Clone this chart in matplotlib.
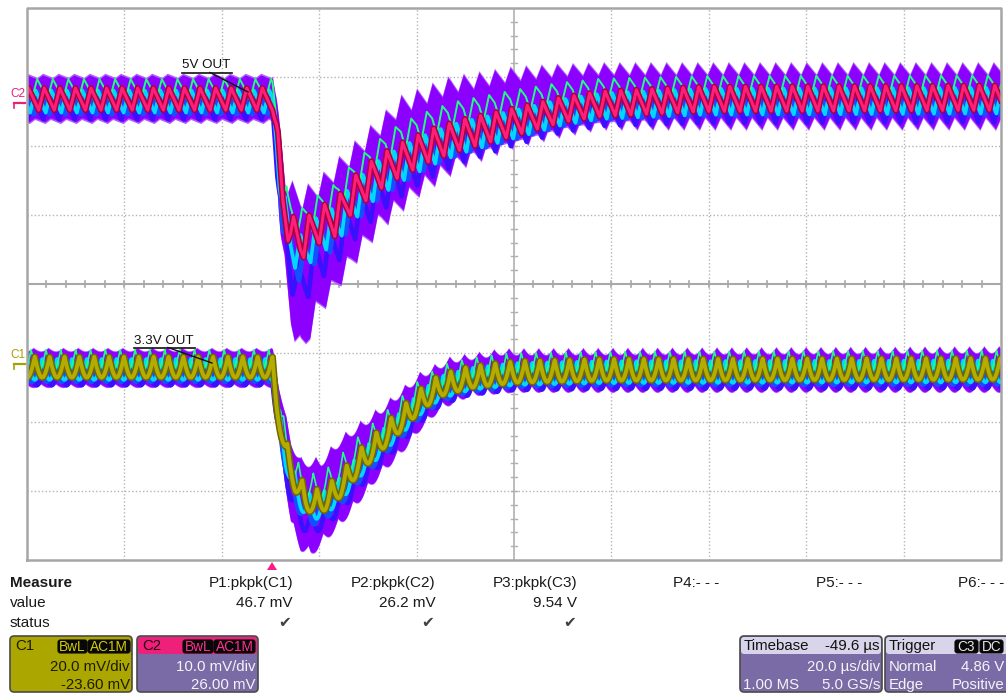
import numpy as np
import matplotlib.pyplot as plt
from matplotlib.patches import FancyBboxPatch, Polygon

plt.rcParams['font.family'] = ['Liberation Sans', 'DejaVu Sans']

W, H = 1006, 693

# acquisition settings
TIME_DIV = 20.0                  # us/div
DELAY = -49.6                    # us
C1_VDIV, C1_OFS = 20.0, -23.60   # mV/div, mV
C2_VDIV, C2_OFS = 10.0, 26.00

# C2 (5V out): ripple centre and persistence envelope, mV vs us after trigger
c2_t = [-50.4, 0.0, 0.8, 2.1, 3.7, 5.7, 7.8, 9.9, 12.9, 16.0, 21.1, 26.3,
        32.4, 38.6, 49.7, 59.1, 67.3, 87.9, 149.6]
c2_mid = [0.8, 0.8, -3.7, -13.8, -18.5, -20.0, -18.5, -17.3, -16.5, -13.5,
          -10.2, -8.0, -5.9, -4.4, -2.5, -0.8, 0.1, 0.8, 1.0]
c2_env_t = [-50.4, 0.0, 1.2, 2.7, 5.7, 9.9, 14.0, 18.1, 26.3, 36.5, 49.7,
            59.1, 67.3, 149.6]
c2_hi = [4.0, 4.0, -2.2, -11.7, -13.8, -11.7, -8.8, -5.9, -0.1, 2.8, 4.4,
         4.9, 5.1, 5.1]
c2_lo_t = [-50.4, 0.0, 1.6, 3.7, 5.7, 6.8, 8.8, 11.9, 16.0, 22.2, 30.4, 38.6,
           49.7, 59.1, 67.3, 149.6]
c2_lo = [-2.2, -2.2, -18.2, -31.2, -34.9, -34.2, -29.8, -26.9, -22.5, -16.7,
         -11.7, -8.0, -5.1, -3.7, -2.6, -2.6]
c2_pp_t = [-50.4, 0.0, 2.0, 20.0, 60.0, 149.6]
c2_pp = [3.2, 3.2, 5.5, 5.0, 3.6, 3.6]
c2_env_pp = [0.6, 0.6, 3.0, 3.0, 1.8, 1.8]
C2_PERIOD = 3.2

# C1 (3.3V out)
c1_t = [-50.4, 0.0, 0.8, 2.7, 4.7, 6.8, 8.8, 10.9, 14.0, 18.1, 22.2, 26.3,
        30.4, 34.5, 40.6, 49.7, 67.3, 149.6]
c1_mid = [-0.5, -0.5, -10.0, -24.5, -33.2, -38.5, -39.5, -38.5, -34.6, -27.4,
          -21.6, -15.8, -10.0, -5.7, -3.4, -1.9, -1.3, -1.0]
c1_hi_t = [-50.4, 0.0, 1.2, 3.7, 5.7, 9.9, 14.0, 22.2, 30.4, 36.5, 46.8, 149.6]
c1_hi = [4.5, 4.5, -5.7, -22.0, -28.0, -28.0, -21.6, -12.9, -2.8, 1.6, 3.9, 4.5]
c1_lo_t = [-50.4, 0.0, 1.6, 3.7, 5.7, 7.8, 9.9, 14.0, 18.1, 22.2, 26.3, 30.4,
           34.5, 40.6, 49.7, 149.6]
c1_lo = [-5.7, -5.7, -24.5, -44.8, -52.0, -54.0, -50.6, -44.8, -37.6, -30.3,
         -24.5, -17.3, -11.5, -7.7, -6.6, -6.6]
c1_pp_t = [-50.4, 0.0, 5.0, 40.0, 149.6]
c1_pp = [6.0, 6.0, 7.0, 6.2, 6.2]
c1_env_pp = [1.0, 1.0, 3.0, 2.0, 2.0]
C1_PERIOD = 3.05

# measurement table
meas_names = ['P1:pkpk(C1)', 'P2:pkpk(C2)', 'P3:pkpk(C3)', 'P4:- - -', 'P5:- - -', 'P6:- - -']
meas_values = ['46.7 mV', '26.2 mV', '9.54 V', '', '', '']
meas_ok = [True, True, True, False, False, False]


def saw(t, period, phase):
    p = (t / period + phase) % 1.0
    return np.where(p < 0.35, -1 + 2 * p / 0.35, 1 - 2 * (p - 0.35) / 0.65)


def scallop(t, period, phase):
    return 1 - 2 * np.abs(np.sin(np.pi * (t / period + phase)))


def to_x(t):
    return 5 + (t + DELAY) / TIME_DIV


fig = plt.figure(figsize=(W / 100, H / 100), dpi=100)
ax = fig.add_axes([27 / W, 1 - 560 / H, 974 / W, 552 / H])
ax.set_xlim(0, 10)
ax.set_ylim(0, 8)
ax.axis('off')

# graticule
grid_kw = dict(color='#b4b4b4', lw=1.0, ls=(0, (1, 1.6)), zorder=1)
for i in range(1, 10):
    if i != 5:
        ax.plot([i, i], [0, 8], **grid_kw)
for j in range(1, 8):
    if j != 4:
        ax.plot([0, 10], [j, j], **grid_kw)
ax.plot([0, 10], [4, 4], color='#a8a8a8', lw=1.5, zorder=1)
ax.plot([5, 5], [0, 8], color='#b0b0b0', lw=1.2, zorder=1)
for m in np.arange(0.2, 10, 0.2):
    ax.plot([m, m], [4 - 0.045, 4 + 0.045], color='#a8a8a8', lw=1.2, zorder=1)
for m in np.arange(0.2, 8, 0.2):
    ax.plot([5 - 0.03, 5 + 0.03], [m, m], color='#b0b0b0', lw=1.0, zorder=1)
ax.plot([0, 10, 10, 0, 0], [0, 0, 8, 8, 0], color='#a6a6a6', lw=1.8,
        zorder=6, clip_on=False)

t = np.linspace(-50.4, 149.6, 14000)
x = to_x(t)


def draw_channel(mid_t, mid, hi_t, hi, lo_t, lo, pp_t, pp, env_pp, period,
                 wave, vdiv, ofs, trace_col, edge_col, copies, trace_lw):
    m = np.interp(t, mid_t, mid)
    a = np.interp(t, pp_t, pp) / 2
    ea = np.interp(t, pp_t, env_pp) / 2
    h = np.interp(t, hi_t, hi) + ea * wave(t, period, 0.1)
    l = np.interp(t, lo_t, lo) + ea * wave(t, period, 0.6)
    h = np.maximum(h, m + a + 0.6)
    l = np.minimum(l, m - a - 0.6)

    def y(v):
        return 4 + (v + ofs) / vdiv

    ax.fill_between(x, y(l - 0.25), y(h + 0.25), color='#b25cff', lw=0, zorder=2)
    ax.fill_between(x, y(l), y(h), color='#8c00ff', lw=0, zorder=2)
    for frac, phase, col, lw in copies:
        base = m + frac * (l - m) if frac >= 0 else m - frac * (h - m)
        ax.plot(x, y(base + a * wave(t, period, phase)), color=col, lw=lw,
                zorder=3, solid_joinstyle='round')
    v = m + a * wave(t, period, 0.0)
    ax.plot(x, y(v), color=edge_col, lw=trace_lw + 2.2, zorder=4)
    ax.plot(x, y(v), color=trace_col, lw=trace_lw, zorder=5)


draw_channel(c2_t, c2_mid, c2_env_t, c2_hi, c2_lo_t, c2_lo, c2_pp_t, c2_pp,
             c2_env_pp, C2_PERIOD, saw, C2_VDIV, C2_OFS, '#ff1f78', '#a8003c',
             [(0.42, 0.7, '#3a10ff', 3.2), (0.22, 0.3, '#1450ff', 3.4),
              (0.12, 0.55, '#00d8ff', 2.6), (-0.45, 0.45, '#1eff80', 1.4)], 2.2)
draw_channel(c1_t, c1_mid, c1_hi_t, c1_hi, c1_lo_t, c1_lo, c1_pp_t, c1_pp,
             c1_env_pp, C1_PERIOD, scallop, C1_VDIV, C1_OFS, '#b4ac00', '#6e6800',
             [(0.42, 0.35, '#3a10ff', 3.2), (0.22, 0.7, '#1450ff', 3.4),
              (0.12, 0.5, '#00d8ff', 2.6), (-0.4, 0.25, '#1eff80', 1.2)], 2.8)

# overlay in pixel coordinates for annotations and readouts
ov = fig.add_axes([0, 0, 1, 1])
ov.set_xlim(0, W)
ov.set_ylim(H, 0)
ov.axis('off')

ov.text(182, 65, '5V OUT', fontsize=9.6, va='center', ha='left', color='#111111')
ov.plot([182, 232], [72.5, 72.5], color='#111111', lw=1.2)
ov.plot([210, 248], [72.5, 92], color='#111111', lw=1.0)
ov.text(134, 341, '3.3V OUT', fontsize=9.6, va='center', ha='left', color='#111111')
ov.plot([134, 195], [347.5, 347.5], color='#111111', lw=1.2)
ov.plot([168, 212], [347.5, 363], color='#111111', lw=1.0)

# channel ground markers
ov.text(10, 94, 'C2', fontsize=8.5, color='#e8207a', va='center', ha='left')
ov.plot([14, 25], [103, 103], color='#e8207a', lw=1.6)
ov.plot([14, 14], [103, 108], color='#e8207a', lw=1.2)
ov.text(10, 355, 'C1', fontsize=8.5, color='#a8a000', va='center', ha='left')
ov.plot([14, 25], [364, 364], color='#a8a000', lw=1.6)
ov.plot([14, 14], [364, 369], color='#a8a000', lw=1.2)

# trigger position
ov.add_patch(Polygon([[267, 570], [277, 570], [272, 562]], closed=True,
                     fc='#ff1a8c', ec='none'))

# measurement table
tk = dict(fontsize=11, color='#1a1a1a', va='center')
ov.text(10, 583, 'Measure', fontweight='bold', ha='left', **tk)
ov.text(10, 603, 'value', ha='left', **tk)
ov.text(10, 623, 'status', ha='left', **tk)
for k, (name, val, ok) in enumerate(zip(meas_names, meas_values, meas_ok)):
    xr = 293 + 142.2 * k
    ov.text(xr, 583, name, ha='right', **tk)
    if val:
        ov.text(xr, 603, val, ha='right', **tk)
    if ok:
        ov.text(xr - 8, 623, '\u2714', ha='center', fontsize=11, color='#404040',
                va='center', family='DejaVu Sans')


def rbox(x0, y0, w, h, fc, ec='#4a4a4a', lw=1.2, r=4):
    ov.add_patch(FancyBboxPatch((x0, y0), w, h,
                                boxstyle=f'round,pad=0,rounding_size={r}',
                                fc=fc, ec=ec, lw=lw))


def tag(x0, x1, y0, y1, s, col):
    rbox(x0, y0, x1 - x0, y1 - y0, '#080808', ec='#080808', lw=0.8, r=2.5)
    ov.text((x0 + x1) / 2, (y0 + y1) / 2 + 0.5, s, color=col, fontsize=9.8,
            ha='center', va='center')


bk = dict(fontsize=10.8, va='center')
# C1 descriptor
rbox(10, 636, 122, 56, '#aca700')
ov.text(15, 646, 'C1', color='#1c1c00', ha='left', **bk)
tag(58, 87, 640, 653, 'BwL', '#d4cc00')
tag(88, 130, 640, 653, 'AC1M', '#d4cc00')
ov.text(130, 667, '20.0 mV/div', color='#1c1c00', ha='right', **bk)
ov.text(130, 685, '-23.60 mV', color='#1c1c00', ha='right', **bk)

# C2 descriptor
rbox(137, 636, 121, 56, '#7a6aa6')
rbox(138, 637, 119, 17, '#ee2079', ec='none', lw=0, r=3)
ov.text(142, 646, 'C2', color='#2a0018', ha='left', **bk)
tag(183, 213, 640, 653, 'BwL', '#ff3090')
tag(214, 255, 640, 653, 'AC1M', '#ff3090')
ov.text(256, 667, '10.0 mV/div', color='#f4f4f4', ha='right', **bk)
ov.text(256, 685, '26.00 mV', color='#f4f4f4', ha='right', **bk)

# timebase
rbox(740, 636, 142, 56, '#7a6aa6')
rbox(741, 637, 140, 17, '#d8d4ea', ec='none', lw=0, r=3)
ov.text(744, 646, 'Timebase', color='#111111', ha='left', **bk)
ov.text(880, 646, '-49.6 \u00b5s', color='#111111', ha='right', **bk)
ov.text(880, 667, '20.0 \u00b5s/div', color='#f4f4f4', ha='right', **bk)
ov.text(743, 685, '1.00 MS', color='#f4f4f4', ha='left', **bk)
ov.text(880, 685, '5.0 GS/s', color='#f4f4f4', ha='right', **bk)

# trigger
rbox(885, 636, 124, 56, '#7a6aa6')
rbox(886, 637, 122, 17, '#d8d4ea', ec='none', lw=0, r=3)
ov.text(889, 646, 'Trigger', color='#111111', ha='left', **bk)
tag(955, 978, 640, 653, 'C3', '#e8e8e8')
tag(980, 1003, 640, 653, 'DC', '#e8e8e8')
ov.text(889, 667, 'Normal', color='#f4f4f4', ha='left', **bk)
ov.text(1004, 667, '4.86 V', color='#f4f4f4', ha='right', **bk)
ov.text(889, 685, 'Edge', color='#f4f4f4', ha='left', **bk)
ov.text(1005, 685, 'Positive', color='#f4f4f4', ha='right', **bk)

fig.savefig('out.png', dpi=100, facecolor='white')
